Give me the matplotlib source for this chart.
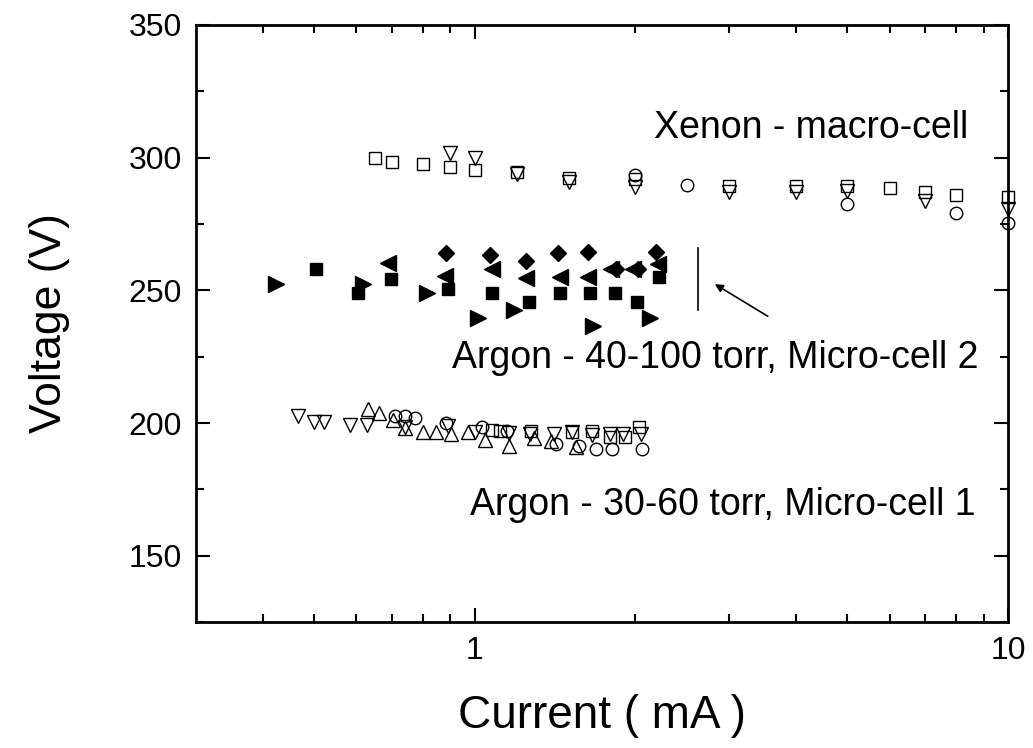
import matplotlib
matplotlib.use('Agg')
import matplotlib.pyplot as plt
from matplotlib.ticker import FixedLocator, NullFormatter

plt.rcParams['font.family'] = ['Liberation Sans', 'DejaVu Sans']

# Xenon - macro-cell (open markers)
xe_sq_x = [0.65, 0.70, 0.80, 0.90, 1.0, 1.2, 1.5, 2.0, 3.0, 4.0, 5.0, 6.0, 7.0, 8.0, 10.0]
xe_sq_y = [300.0, 298.5, 297.7, 296.5, 295.5, 294.5, 292.4, 292.0, 289.5, 289.5, 289.5, 288.6, 287.0, 286.0, 285.0]
xe_tri_x = [0.90, 1.0, 1.2, 1.5, 2.0, 3.0, 4.0, 5.0, 7.0, 10.0]
xe_tri_y = [301.7, 299.9, 294.0, 291.0, 289.0, 287.0, 287.0, 287.6, 283.8, 280.6]
xe_ci_x = [2.0, 2.5, 5.0, 8.0, 10.0]
xe_ci_y = [293.6, 289.8, 282.7, 279.3, 275.5]

# Argon - 40-100 torr, Micro-cell 2 (filled markers)
a2_sq_x = [0.503, 0.604, 0.695, 0.891, 1.078, 1.264, 1.443, 1.644, 1.83, 2.015, 2.215]
a2_sq_y = [258.2, 249.1, 254.4, 250.6, 249.1, 245.7, 249.1, 249.1, 249.1, 245.7, 255.2]
a2_rt_x = [0.424, 0.617, 0.812, 1.014, 1.183, 1.667, 2.135]
a2_rt_y = [252.3, 252.5, 249.1, 239.5, 242.6, 236.6, 239.5]
a2_lt_x = [0.688, 0.879, 1.075, 1.25, 1.448, 1.631, 1.80, 1.98, 2.21]
a2_lt_y = [260.2, 255.4, 258.2, 254.8, 255.0, 255.2, 258.2, 258.2, 259.8]
a2_di_x = [0.885, 1.067, 1.25, 1.43, 1.631, 1.84, 2.02, 2.185]
a2_di_y = [264.2, 263.5, 261.0, 264.2, 264.4, 258.2, 258.2, 264.5]

# Argon - 30-60 torr, Micro-cell 1 (open markers)
a1_dn_x = [0.467, 0.499, 0.522, 0.583, 0.628, 0.74, 0.89, 1.0, 1.16, 1.27, 1.41, 1.52, 1.66, 1.79, 1.90, 2.05]
a1_dn_y = [202.5, 200.5, 200.5, 199.2, 199.2, 198.5, 198.7, 196.8, 196.2, 195.9, 195.9, 196.5, 195.5, 195.9, 195.9, 195.9]
a1_up_x = [0.631, 0.661, 0.701, 0.74, 0.80, 0.847, 0.904, 0.972, 1.044, 1.16, 1.29, 1.39, 1.55]
a1_up_y = [205.3, 203.8, 201.2, 198.0, 196.8, 196.8, 195.9, 196.5, 193.7, 191.5, 194.2, 193.4, 190.9]
a1_ci_x = [0.708, 0.739, 0.772, 0.885, 1.03, 1.15, 1.42, 1.57, 1.69, 1.81, 2.06]
a1_ci_y = [202.7, 202.5, 201.8, 200.0, 198.4, 197.1, 192.1, 191.5, 190.2, 190.2, 190.2]
a1_sq_x = [1.075, 1.114, 1.274, 1.52, 1.66, 1.79, 1.91, 2.03]
a1_sq_y = [197.5, 197.1, 197.1, 196.8, 197.1, 194.6, 194.6, 198.4]

fig = plt.figure(figsize=(10.33, 7.48), dpi=100)
ax = fig.add_axes([0.1897, 0.1684, 0.7861, 0.7982])

def open_pts(x, y, m, ms):
    ax.plot(x, y, linestyle='none', marker=m, markersize=ms, markerfacecolor='none',
            markeredgecolor='black', markeredgewidth=1.0, clip_on=False)

def filled_pts(x, y, m, ms):
    ax.plot(x, y, linestyle='none', marker=m, markersize=ms, color='black', clip_on=False)

open_pts(xe_sq_x, xe_sq_y, 's', 8)
open_pts(xe_tri_x, xe_tri_y, 'v', 10)
open_pts(xe_ci_x, xe_ci_y, 'o', 9)

filled_pts(a2_sq_x, a2_sq_y, 's', 9)
filled_pts(a2_rt_x, a2_rt_y, '>', 11)
filled_pts(a2_lt_x, a2_lt_y, '<', 11)
filled_pts(a2_di_x, a2_di_y, 'D', 8.5)

open_pts(a1_dn_x, a1_dn_y, 'v', 10)
open_pts(a1_up_x, a1_up_y, '^', 10)
open_pts(a1_ci_x, a1_ci_y, 'o', 9)
open_pts(a1_sq_x, a1_sq_y, 's', 8)

# vertical bracket line and arrow
ax.plot([2.62, 2.62], [242.5, 265.8], color='black', linewidth=1.2)
ax.annotate('', xy=(2.79, 252.9), xytext=(3.58, 239.7),
            arrowprops=dict(arrowstyle='-|>', color='black', linewidth=1.2, mutation_scale=12))

ax.text(0.951, 0.827, 'Xenon - macro-cell', transform=ax.transAxes, fontsize=27, va='center', ha='right')
ax.text(0.315, 0.442, 'Argon - 40-100 torr, Micro-cell 2', transform=ax.transAxes, fontsize=27, va='center')
ax.text(0.337, 0.196, 'Argon - 30-60 torr, Micro-cell 1', transform=ax.transAxes, fontsize=27, va='center')

ax.set_xscale('log')
ax.set_xlim(0.3, 10)
ax.set_ylim(125, 350)
ax.yaxis.set_major_locator(FixedLocator([150, 200, 250, 300, 350]))
ax.yaxis.set_minor_locator(FixedLocator([125, 175, 225, 275, 325]))
ax.xaxis.set_major_locator(FixedLocator([1, 10]))
ax.xaxis.set_minor_locator(FixedLocator([0.4, 0.5, 0.6, 0.7, 0.8, 0.9, 2, 3, 4, 5, 6, 7, 8, 9]))
ax.xaxis.set_minor_formatter(NullFormatter())
ax.set_xticklabels(['1', '10'])

ax.tick_params(which='both', direction='in', top=True, right=True, width=1.5, labelsize=23, pad=10)
ax.tick_params(which='major', length=10)
ax.tick_params(which='minor', length=6)
for s in ax.spines.values():
    s.set_linewidth(2)

ax.set_xlabel('Current ( mA )', fontsize=33, labelpad=20)
ax.set_ylabel('Voltage (V)', fontsize=32, labelpad=42)

fig.savefig('out.png', dpi=100)
